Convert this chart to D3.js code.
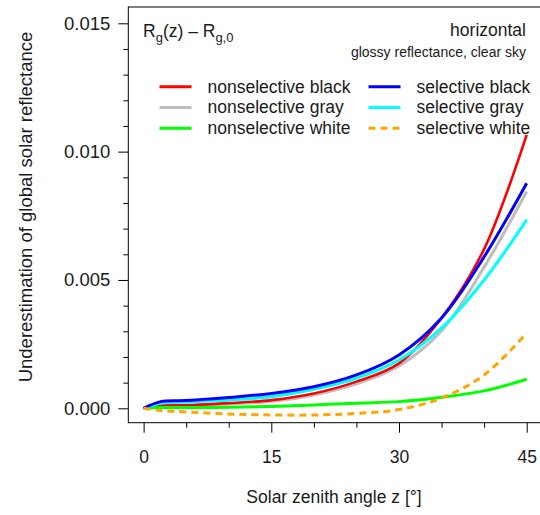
<!DOCTYPE html>
<html>
<head>
<meta charset="utf-8">
<script src="https://cdn.jsdelivr.net/npm/d3@7"></script>
<style>
  body { margin: 0; background: #fff; }
  svg { font-family: "Liberation Sans", Arial, sans-serif; }
</style>
</head>
<body>
<svg width="540" height="515"></svg>
<script>
// zenith angles (degrees)
const zenith = [0, 2, 5, 10, 15, 20, 25, 30, 35, 40, 45];

// underestimation values per series
const nonselBlack = [0, 0.00010, 0.00012, 0.00020, 0.00032, 0.00058, 0.00104, 0.00175, 0.00352, 0.00620, 0.01065];
const nonselGray  = [0, 0.00009, 0.00010, 0.00018, 0.00026, 0.00052, 0.00095, 0.00165, 0.00302, 0.00550, 0.00845];
const nonselWhite = [0, 0.00003, 0.00003, 0.00004, 0.00007, 0.00013, 0.00020, 0.00026, 0.00043, 0.00068, 0.00113];
const selBlack    = [0, 0.00026, 0.00030, 0.00042, 0.00058, 0.00084, 0.00130, 0.00208, 0.00352, 0.00590, 0.00877];
const selGray     = [0, 0.00020, 0.00024, 0.00032, 0.00045, 0.00074, 0.00117, 0.00188, 0.00313, 0.00500, 0.00734];
const selWhite    = [0, -0.00009, -0.00014, -0.00022, -0.00026, -0.00026, -0.00020, -0.00005, 0.00040, 0.00130, 0.00293];

const seriesNames = ["nonselective black", "nonselective gray", "nonselective white",
                     "selective black", "selective gray", "selective white"];
const seriesValues = [nonselBlack, nonselGray, nonselWhite, selBlack, selGray, selWhite];
const seriesColors = ["#ff0000", "#bebebe", "#00ff00", "#0000ff", "#00ffff", "#ffa500"];

const xMajor = [0, 15, 30, 45];
const xMinor = [5, 10, 20, 25, 35, 40];
const yMajor = [0, 0.005, 0.010, 0.015];
const yMinor = [0.001, 0.002, 0.003, 0.004, 0.006, 0.007, 0.008, 0.009, 0.011, 0.012, 0.013, 0.014];

const svg = d3.select("svg");
const pLeft = 128.3, pRight = 542, pTop = 7, pBottom = 422.7;
const fs = "17.5px";

const x = d3.scaleLinear().domain([-1.8, 46.8]).range([pLeft, pRight]);
const y = d3.scaleLinear().domain([-0.000561, 0.015635]).range([pBottom, pTop]);

// curves
const line = d3.line()
  .x((d, i) => x(zenith[i]))
  .y(d => y(d))
  .curve(d3.curveCatmullRom.alpha(0.5));

const plot = svg.append("g");
plot.append("defs").append("clipPath").attr("id", "clip")
  .append("rect").attr("x", pLeft).attr("y", pTop).attr("width", pRight - pLeft).attr("height", pBottom - pTop);

const drawOrder = [1, 0, 2, 4, 3, 5];
drawOrder.forEach(i => {
  plot.append("path")
    .attr("clip-path", "url(#clip)")
    .attr("fill", "none")
    .attr("stroke", seriesColors[i])
    .attr("stroke-width", i === 0 ? 2.6 : 3)
    .attr("stroke-dasharray", i === 5 ? "7,5" : null)
    .attr("d", line(seriesValues[i]));
});

// box
svg.append("rect")
  .attr("x", pLeft).attr("y", pTop)
  .attr("width", pRight - pLeft).attr("height", pBottom - pTop)
  .attr("fill", "none").attr("stroke", "#000").attr("stroke-width", 1);

// axes
const xAxis = svg.append("g").attr("transform", `translate(0,${pBottom})`)
  .call(d3.axisBottom(x).tickValues(xMajor).tickSize(10).tickPadding(18).tickFormat(d3.format("d")));
const xAxisMinor = svg.append("g").attr("transform", `translate(0,${pBottom})`)
  .call(d3.axisBottom(x).tickValues(xMinor).tickSize(5).tickFormat(""));
const yAxis = svg.append("g").attr("transform", `translate(${pLeft},0)`)
  .call(d3.axisLeft(y).tickValues(yMajor).tickSize(10).tickPadding(8).tickFormat(d3.format(".3f")));
const yAxisMinor = svg.append("g").attr("transform", `translate(${pLeft},0)`)
  .call(d3.axisLeft(y).tickValues(yMinor).tickSize(5).tickFormat(""));

[xAxis, xAxisMinor, yAxis, yAxisMinor].forEach(g => {
  g.select(".domain").remove();
  g.selectAll("line").attr("stroke", "#000");
  g.selectAll("text").attr("fill", "#1a1a1a")
    .style("font-size", fs).style("font-family", "'Liberation Sans', Arial, sans-serif");
});
yAxis.selectAll("text").style("font-size", "18.5px");

// axis titles
svg.append("text")
  .attr("x", 334).attr("y", 503)
  .attr("text-anchor", "middle").attr("fill", "#1a1a1a")
  .style("font-size", fs)
  .text("Solar zenith angle z [°]");

svg.append("text")
  .attr("transform", `translate(32,207) rotate(-90)`)
  .attr("text-anchor", "middle").attr("fill", "#1a1a1a")
  .style("font-size", "18.5px")
  .text("Underestimation of global solar reflectance");

// annotations
const label = svg.append("text").attr("x", 143).attr("y", 37)
  .attr("fill", "#1a1a1a").style("font-size", fs);
label.append("tspan").text("R");
label.append("tspan").attr("dy", 4.5).style("font-size", "13px").text("g");
label.append("tspan").attr("dy", -4.5).text("(z) – R");
label.append("tspan").attr("dy", 4.5).style("font-size", "13px").text("g,0");

svg.append("text").attr("x", 526).attr("y", 35.5)
  .attr("text-anchor", "end").attr("fill", "#1a1a1a")
  .style("font-size", fs).text("horizontal");

svg.append("text").attr("x", 526).attr("y", 56.5)
  .attr("text-anchor", "end").attr("fill", "#1a1a1a")
  .style("font-size", "14px").text("glossy reflectance, clear sky");

// legend
const legendCols = [{lx: 159.5, tx: 207.5}, {lx: 368.5, tx: 416.5}];
const legendRows = [86.7, 107.5, 128.3];
seriesNames.forEach((name, i) => {
  const col = legendCols[Math.floor(i / 3)];
  const ry = legendRows[i % 3];
  svg.append("line")
    .attr("x1", col.lx).attr("x2", col.lx + 32)
    .attr("y1", ry).attr("y2", ry)
    .attr("stroke", seriesColors[i]).attr("stroke-width", 3)
    .attr("stroke-dasharray", i === 5 ? "7,5" : null);
  svg.append("text")
    .attr("x", col.tx).attr("y", ry + 5.8)
    .attr("fill", "#1a1a1a").style("font-size", fs)
    .text(name);
});
</script>
</body>
</html>
